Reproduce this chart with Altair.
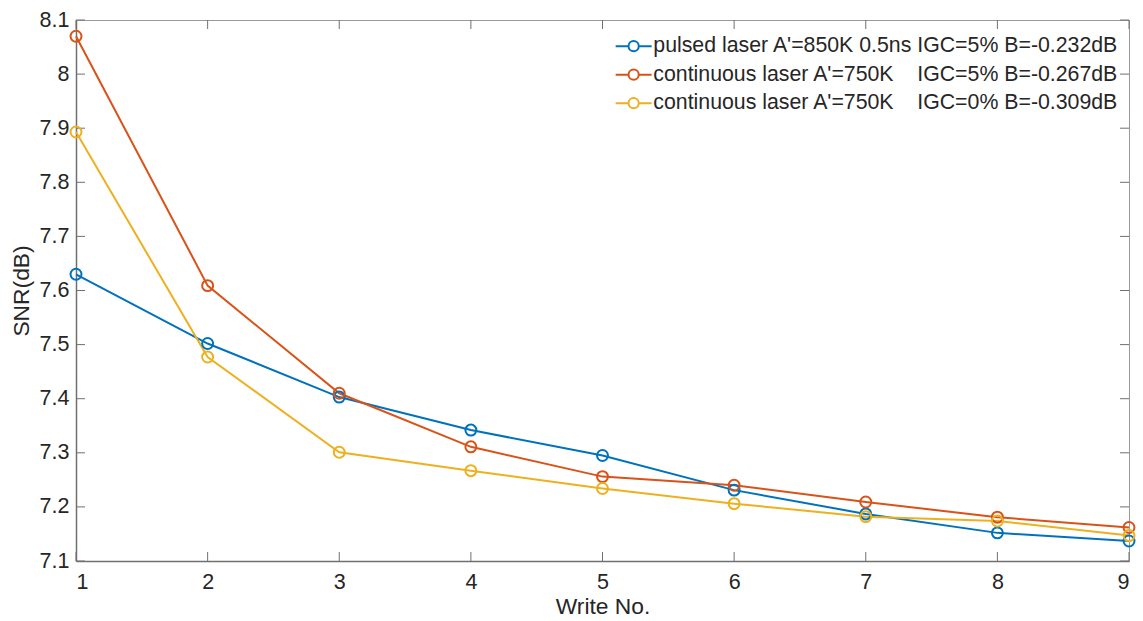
import altair as alt
import pandas as pd

write_no = [1, 2, 3, 4, 5, 6, 7, 8, 9]
series_names = [
    "pulsed laser A'=850K 0.5ns IGC=5% B=-0.232dB",
    "continuous laser A'=750K\u00a0\u00a0\u00a0\u00a0IGC=5% B=-0.267dB",
    "continuous laser A'=750K\u00a0\u00a0\u00a0\u00a0IGC=0% B=-0.309dB",
]
pulsed = [7.630, 7.502, 7.403, 7.342, 7.295, 7.231, 7.187, 7.152, 7.137]
cont_5 = [8.070, 7.609, 7.410, 7.311, 7.256, 7.240, 7.209, 7.181, 7.162]
cont_0 = [7.893, 7.477, 7.301, 7.267, 7.234, 7.206, 7.182, 7.174, 7.147]
colors = ["#0072BD", "#D95319", "#EDB120"]
x_ticks = [1, 2, 3, 4, 5, 6, 7, 8, 9]
y_ticks = [7.1, 7.2, 7.3, 7.4, 7.5, 7.6, 7.7, 7.8, 7.9, 8.0, 8.1]

rows = []
for name, vals in zip(series_names, [pulsed, cont_5, cont_0]):
    for x, y in zip(write_no, vals):
        rows.append({"write": x, "snr": y, "series": name})
df = pd.DataFrame(rows)

W, H = 1053, 541
FONT = "Liberation Sans"
TXT = "#262626"

xs = alt.Scale(domain=[1, 9], nice=False, zero=False)
ys = alt.Scale(domain=[7.1, 8.1], nice=False, zero=False)

# legend glyph: short line with an open circle in the middle
sym = ("M-3,0L-0.85,0M0.85,0L3,0M0.85,0A0.85,0.85,0,1,1,-0.85,0"
       "A0.85,0.85,0,1,1,0.85,0")

color = alt.Color(
    "series:N",
    scale=alt.Scale(domain=series_names, range=colors),
    sort=series_names,
    legend=alt.Legend(
        title=None,
        orient="none",
        legendX=547,
        legendY=15.5,
        padding=0,
        symbolType=sym,
        symbolSize=144,
        symbolStrokeWidth=2,
        symbolFillColor="transparent",
        labelFont=FONT,
        labelFontSize=21.3,
        labelColor=TXT,
        labelLimit=0,
        labelOffset=9,
        rowPadding=6.5,
    ),
)

base = alt.Chart(df).encode(
    x=alt.X(
        "write:Q",
        scale=xs,
        axis=alt.Axis(
            title="Write No.",
            values=x_ticks,
            format="d",
            tickSize=0,
            grid=False,
            labelPadding=10,
            titlePadding=3,
            domainColor="#707070",
            domainWidth=1.5,
        ),
    ),
    y=alt.Y(
        "snr:Q",
        scale=ys,
        axis=alt.Axis(
            title="SNR(dB)",
            values=y_ticks,
            format=".1~f",
            tickSize=0,
            grid=False,
            labelPadding=7,
            titlePadding=6,
            domainColor="#707070",
            domainWidth=1.5,
        ),
    ),
    color=color,
)

lines = base.mark_line(strokeWidth=2)
points = base.mark_point(filled=False, size=120, strokeWidth=2, opacity=1)

xt = pd.DataFrame({"t": x_ticks})
yt = pd.DataFrame({"t": y_ticks})
tick_col = "#707070"
xb = alt.Chart(xt).mark_rule(color=tick_col, strokeWidth=1).encode(
    x=alt.X("t:Q", scale=xs), y=alt.value(H), y2=alt.value(H - 9))
xtp = alt.Chart(xt).mark_rule(color=tick_col, strokeWidth=1).encode(
    x=alt.X("t:Q", scale=xs), y=alt.value(0), y2=alt.value(9))
yl = alt.Chart(yt).mark_rule(color=tick_col, strokeWidth=1).encode(
    y=alt.Y("t:Q", scale=ys), x=alt.value(0), x2=alt.value(9))
yr = alt.Chart(yt).mark_rule(color=tick_col, strokeWidth=1).encode(
    y=alt.Y("t:Q", scale=ys), x=alt.value(W), x2=alt.value(W - 9))

chart = (
    alt.layer(xb, xtp, yl, yr, lines, points)
    .properties(
        width=W,
        height=H,
        padding={"left": 76, "top": 20, "right": 14, "bottom": 60},
        autosize=alt.AutoSizeParams(type="none"),
        background="white",
    )
    .configure_view(stroke="#9a9a9a", strokeWidth=1)
    .configure_axis(
        labelFont=FONT,
        labelFontSize=21.5,
        labelColor=TXT,
        titleFont=FONT,
        titleFontSize=22.8,
        titleFontWeight="normal",
        titleColor=TXT,
    )
)

chart.save("out.html", embed_options={"renderer": "svg", "actions": False})
